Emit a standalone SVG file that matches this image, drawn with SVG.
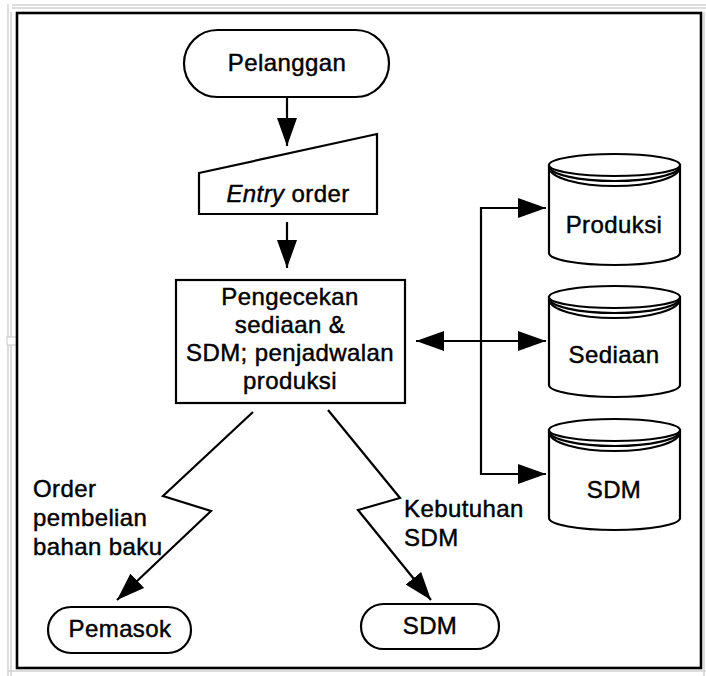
<svg xmlns="http://www.w3.org/2000/svg" width="706" height="676" viewBox="0 0 706 676">
  <defs>
    <style>
      .txt { font-family: "Liberation Sans", Arial, sans-serif; font-size: 24px; fill: #000; stroke: #000; stroke-width: 0.45px; letter-spacing: 0.4px; }
      .mid { text-anchor: middle; }
      .shape { fill: #fff; stroke: #000; stroke-width: 2.2; }
      .line { fill: none; stroke: #000; stroke-width: 2.2; }
      .edge { fill: none; stroke: #d2d2d2; stroke-width: 1.5; }
    </style>
    <marker id="arrow" markerUnits="userSpaceOnUse" markerWidth="29" markerHeight="21" refX="28" refY="10" orient="auto-start-reverse">
      <path d="M0,0 L28,10 L0,20 z" fill="#000"/>
    </marker>
    <!-- data store cylinder, 131 x 112 -->
    <g id="cylinder">
      <path class="shape" d="M0,12 L0,100 A65.5,12 0 0 0 131,100 L131,12 z"/>
      <ellipse class="shape" cx="65.5" cy="12" rx="65.5" ry="11"/>
      <path class="line" d="M0,13 A65.5,15 0 0 0 131,13"/>
      <path class="line" d="M0,14 A65.5,19 0 0 0 131,14"/>
    </g>
  </defs>

  <rect width="706" height="676" fill="#fff"/>

  <!-- page edges around the frame -->
  <g id="page-edges">
    <path class="edge" d="M12,5 H706 M12,8 H706 M8,4 V676 M11,12 V676 M8,671 H706 M704,12 V676"/>
    <rect x="7" y="337" width="10" height="8" fill="#fff" stroke="#c8c8c8" stroke-width="1"/>
  </g>

  <!-- outer frame -->
  <rect x="17" y="13" width="684" height="655" fill="#fff" stroke="#000" stroke-width="2.6"/>

  <g id="connectors">
    <line class="line" x1="287" y1="97" x2="287" y2="146" marker-end="url(#arrow)"/>
    <line class="line" x1="287" y1="222" x2="287" y2="268" marker-end="url(#arrow)"/>
    <polyline class="line" points="546,208 481,208 481,474 546,474" marker-start="url(#arrow)" marker-end="url(#arrow)"/>
    <line class="line" x1="416" y1="341" x2="546" y2="341" marker-start="url(#arrow)" marker-end="url(#arrow)"/>
    <polyline class="line" points="253,412 163,496 211,511 117,600" marker-end="url(#arrow)"/>
    <polyline class="line" points="328,410 400,498 358,510 431,600" marker-end="url(#arrow)"/>
  </g>

  <g id="pelanggan">
    <rect class="shape" x="184" y="30" width="205" height="67" rx="33.5" ry="33.5"/>
    <text class="txt mid" x="287" y="71">Pelanggan</text>
  </g>

  <g id="entry-order">
    <polygon class="shape" points="199,173 377,134 377,214 199,214"/>
    <text class="txt mid" x="288" y="202"><tspan font-style="italic">Entry</tspan> order</text>
  </g>

  <g id="pengecekan">
    <rect class="shape" x="176" y="280" width="229" height="123"/>
    <text class="txt mid" x="290" y="305">Pengecekan</text>
    <text class="txt mid" x="290" y="333">sediaan &amp;</text>
    <text class="txt mid" x="290" y="361">SDM; penjadwalan</text>
    <text class="txt mid" x="290" y="389">produksi</text>
  </g>

  <g id="db-produksi">
    <use href="#cylinder" transform="translate(549,153)"/>
    <text class="txt mid" x="614" y="233">Produksi</text>
  </g>

  <g id="db-sediaan">
    <use href="#cylinder" transform="translate(549,285)"/>
    <text class="txt mid" x="614" y="363">Sediaan</text>
  </g>

  <g id="db-sdm">
    <use href="#cylinder" transform="translate(549,418)"/>
    <text class="txt mid" x="614" y="498">SDM</text>
  </g>

  <g id="label-order">
    <text class="txt" x="33" y="497">Order</text>
    <text class="txt" x="33" y="526">pembelian</text>
    <text class="txt" x="33" y="555">bahan baku</text>
  </g>

  <g id="label-kebutuhan">
    <text class="txt" x="404" y="517">Kebutuhan</text>
    <text class="txt" x="404" y="546">SDM</text>
  </g>

  <g id="pemasok">
    <rect class="shape" x="48" y="607" width="143" height="46" rx="23" ry="23"/>
    <text class="txt mid" x="120" y="637">Pemasok</text>
  </g>

  <g id="sdm">
    <rect class="shape" x="361" y="604" width="138" height="45" rx="22.5" ry="22.5"/>
    <text class="txt mid" x="430" y="634">SDM</text>
  </g>
</svg>
